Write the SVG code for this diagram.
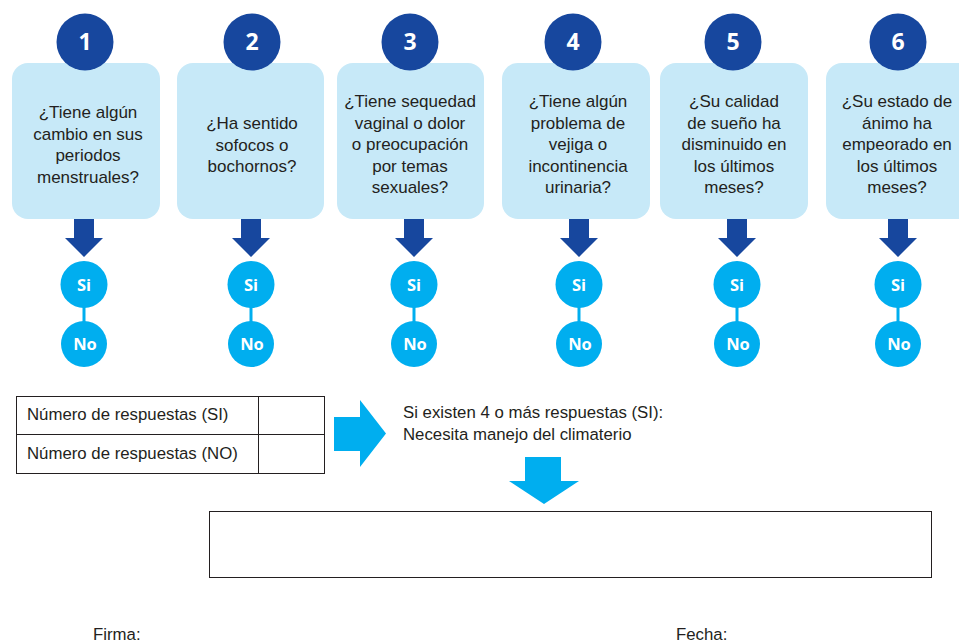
<svg xmlns="http://www.w3.org/2000/svg" width="959" height="644" viewBox="0 0 959 644">
<defs>
<style>
.box{fill:#c7e9f8}
.num{fill:#17479e}
.numt{font-family:"Open Sans","Liberation Sans",sans-serif;font-weight:bold;font-size:23px;fill:#fff;text-anchor:middle}
.q{font-family:"Liberation Sans",Arial,sans-serif;font-size:17px;fill:#231f20;text-anchor:middle}
.arr{fill:#17479e}
.yn{fill:#00aeef}
.ynt{font-family:"Open Sans","Liberation Sans",sans-serif;font-weight:bold;font-size:16.5px;fill:#fff;text-anchor:middle}
.link{stroke:#00aeef;stroke-width:3}
.t{font-family:"Liberation Sans",Arial,sans-serif;font-size:16.8px;fill:#231f20}
.frame{fill:#fff;stroke:#231f20;stroke-width:1}
.cy{fill:#00aeef}
</style>
<path id="darr" d="M-10,0 H10 V19 H19 L0,38 L-19,19 H-10 Z"/>
</defs>

<g id="connectors">
<use href="#darr" class="arr" x="84" y="219"/>
<use href="#darr" class="arr" x="251" y="219"/>
<use href="#darr" class="arr" x="414" y="219"/>
<use href="#darr" class="arr" x="579" y="219"/>
<use href="#darr" class="arr" x="737" y="219"/>
<use href="#darr" class="arr" x="898" y="219"/>
<line class="link" x1="84" y1="300" x2="84" y2="330"/>
<line class="link" x1="251" y1="300" x2="251" y2="330"/>
<line class="link" x1="414" y1="300" x2="414" y2="330"/>
<line class="link" x1="579" y1="300" x2="579" y2="330"/>
<line class="link" x1="737" y1="300" x2="737" y2="330"/>
<line class="link" x1="898" y1="300" x2="898" y2="330"/>
<path class="cy" d="M334,417 H360 V400 L386,433.5 L360,467 V451 H334 Z"/>
<path class="cy" d="M525,457 H561 V481 H579 L544,504 L509,481 H525 Z"/>
</g>

<g id="q1">
<rect class="box" x="12" y="63" width="148" height="156" rx="16"/>
<circle class="num" cx="85" cy="42" r="28.5"/>
<text class="numt" x="85" y="50">1</text>
<text class="q"><tspan x="88" y="118">¿Tiene algún</tspan><tspan x="88" y="139.5">cambio en sus</tspan><tspan x="88" y="161">periodos</tspan><tspan x="88" y="182.5">menstruales?</tspan></text>
</g>
<g id="q2">
<rect class="box" x="177" y="63" width="147" height="156" rx="16"/>
<circle class="num" cx="252" cy="42" r="28.5"/>
<text class="numt" x="252" y="50">2</text>
<text class="q"><tspan x="252" y="129">¿Ha sentido</tspan><tspan x="252" y="150.5">sofocos o</tspan><tspan x="252" y="172">bochornos?</tspan></text>
</g>
<g id="q3">
<rect class="box" x="337" y="63" width="147" height="156" rx="16"/>
<circle class="num" cx="410" cy="42" r="28.5"/>
<text class="numt" x="410" y="50">3</text>
<text class="q"><tspan x="410" y="107">¿Tiene sequedad</tspan><tspan x="410" y="128.5">vaginal o dolor</tspan><tspan x="410" y="150">o preocupación</tspan><tspan x="410" y="171.5">por temas</tspan><tspan x="410" y="193">sexuales?</tspan></text>
</g>
<g id="q4">
<rect class="box" x="502" y="63" width="148" height="156" rx="16"/>
<circle class="num" cx="573" cy="42" r="28.5"/>
<text class="numt" x="573" y="50">4</text>
<text class="q"><tspan x="578" y="107">¿Tiene algún</tspan><tspan x="578" y="128.5">problema de</tspan><tspan x="578" y="150">vejiga o</tspan><tspan x="578" y="171.5">incontinencia</tspan><tspan x="578" y="193">urinaria?</tspan></text>
</g>
<g id="q5">
<rect class="box" x="660" y="63" width="148" height="156" rx="16"/>
<circle class="num" cx="733" cy="42" r="28.5"/>
<text class="numt" x="733" y="50">5</text>
<text class="q"><tspan x="734" y="107">¿Su calidad</tspan><tspan x="734" y="128.5">de sueño ha</tspan><tspan x="734" y="150">disminuido en</tspan><tspan x="734" y="171.5">los últimos</tspan><tspan x="734" y="193">meses?</tspan></text>
</g>
<g id="q6">
<rect class="box" x="826" y="63" width="150" height="156" rx="16"/>
<circle class="num" cx="898" cy="42" r="28.5"/>
<text class="numt" x="898" y="50">6</text>
<text class="q"><tspan x="897" y="107">¿Su estado de</tspan><tspan x="897" y="128.5">ánimo ha</tspan><tspan x="897" y="150">empeorado en</tspan><tspan x="897" y="171.5">los últimos</tspan><tspan x="897" y="193">meses?</tspan></text>
</g>

<g id="si1"><circle class="yn" cx="84" cy="284.5" r="23.5"/><text class="ynt" x="84" y="290.5">Si</text></g>
<g id="no1"><circle class="yn" cx="84" cy="344" r="23"/><text class="ynt" x="85" y="350">No</text></g>
<g id="si2"><circle class="yn" cx="251" cy="284.5" r="23.5"/><text class="ynt" x="251" y="290.5">Si</text></g>
<g id="no2"><circle class="yn" cx="251" cy="344" r="23"/><text class="ynt" x="252" y="350">No</text></g>
<g id="si3"><circle class="yn" cx="414" cy="284.5" r="23.5"/><text class="ynt" x="414" y="290.5">Si</text></g>
<g id="no3"><circle class="yn" cx="414" cy="344" r="23"/><text class="ynt" x="415" y="350">No</text></g>
<g id="si4"><circle class="yn" cx="579" cy="284.5" r="23.5"/><text class="ynt" x="579" y="290.5">Si</text></g>
<g id="no4"><circle class="yn" cx="579" cy="344" r="23"/><text class="ynt" x="580" y="350">No</text></g>
<g id="si5"><circle class="yn" cx="737" cy="284.5" r="23.5"/><text class="ynt" x="737" y="290.5">Si</text></g>
<g id="no5"><circle class="yn" cx="737" cy="344" r="23"/><text class="ynt" x="738" y="350">No</text></g>
<g id="si6"><circle class="yn" cx="898" cy="284.5" r="23.5"/><text class="ynt" x="898" y="290.5">Si</text></g>
<g id="no6"><circle class="yn" cx="898" cy="344" r="23"/><text class="ynt" x="899" y="350">No</text></g>

<g id="table">
<rect class="frame" x="16.5" y="396.5" width="308" height="77"/>
<line stroke="#231f20" x1="16.5" y1="434.5" x2="324.5" y2="434.5"/>
<line stroke="#231f20" x1="258.5" y1="396.5" x2="258.5" y2="473.5"/>
<text class="t" x="27" y="420">Número de respuestas (SI)</text>
<text class="t" x="27" y="459">Número de respuestas (NO)</text>
</g>

<g id="rule">
<text class="t" x="403" y="418" font-size="16.5">Si existen 4 o más respuestas (SI):</text>
<text class="t" x="403" y="440" font-size="16.5">Necesita manejo del climaterio</text>
</g>

<g id="result">
<rect class="frame" x="209.5" y="511.5" width="722" height="66"/>
</g>

<g id="firma"><text class="t" x="93" y="640" font-size="16">Firma:</text></g>
<g id="fecha"><text class="t" x="676" y="640" font-size="16">Fecha:</text></g>
</svg>
